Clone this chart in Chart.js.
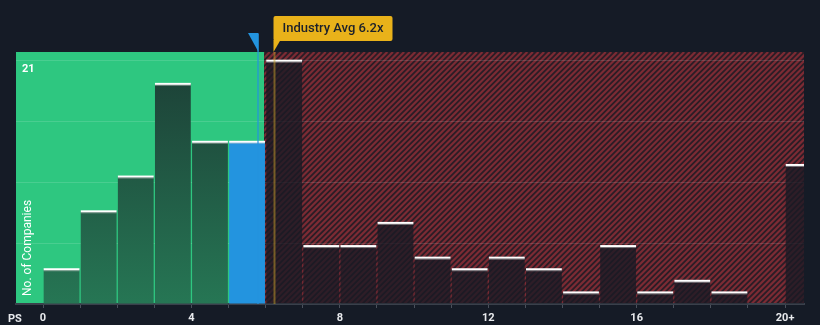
<!DOCTYPE html>
<html>
<head>
<meta charset="utf-8">
<script src="https://cdn.jsdelivr.net/npm/chart.js@4.4.1/dist/chart.umd.min.js"></script>
<style>
  html, body { margin: 0; padding: 0; background: #151b26; }
  #wrap { width: 820px; height: 325px; position: relative; }
</style>
</head>
<body>
<div id="wrap"><canvas id="psChart"></canvas></div>
<script>
// histogram bins (PS ratio), last one is open ended
const binStarts = [0,1,2,3,4,5,6,7,8,9,10,11,12,13,14,15,16,17,18,19,20];
const companyCounts = [3,8,11,19,14,14,21,5,5,7,4,3,4,3,1,5,1,2,1,0,12];
const xTickLabels = { 0: '0', 4: '4', 8: '8', 12: '12', 16: '16', 20: '20+' };
const yGridValues = [0, 5.25, 10.5, 15.75, 21];
const yMaxLabel = 21;
const companyPS = 5.8;
const industryAvg = 6.2;
const companyBin = 5;
const fairEdge = 6;

const FONT = 'Roboto, "Noto Sans", sans-serif';

function barColor(ctx) {
  const i = ctx.dataIndex;
  const chart = ctx.chart;
  if (i === companyBin) return '#2394df';
  if (i < companyBin) {
    const area = chart.chartArea;
    if (!area) return '#22604a';
    const g = chart.ctx.createLinearGradient(0, area.top, 0, area.bottom);
    g.addColorStop(0, '#1c3d35');
    g.addColorStop(1, '#267654');
    return g;
  }
  return 'rgba(24,26,36,0.78)';
}

const regionsPlugin = {
  id: 'regions',
  beforeDraw(chart) {
    const { ctx, chartArea: a, scales: { x } } = chart;
    const edge = x.getPixelForValue(fairEdge) - 1.5;
    ctx.save();
    ctx.fillStyle = '#2ec780';
    ctx.fillRect(a.left, a.top, edge - a.left, a.bottom - a.top);
    // hatched red area
    ctx.beginPath();
    ctx.rect(edge, a.top, a.right - edge, a.bottom - a.top);
    ctx.clip();
    ctx.fillStyle = '#2a1d26';
    ctx.fillRect(edge, a.top, a.right - edge, a.bottom - a.top);
    ctx.strokeStyle = '#7c2b34';
    ctx.lineWidth = 2.2;
    const h = a.bottom - a.top;
    for (let sx = edge - h; sx < a.right + 10; sx += 5.6) {
      ctx.beginPath();
      ctx.moveTo(sx, a.bottom);
      ctx.lineTo(sx + h, a.top);
      ctx.stroke();
    }
    ctx.restore();
  },
  afterDatasetsDraw(chart) {
    const { ctx, chartArea: a, scales: { x } } = chart;
    const meta = chart.getDatasetMeta(0);
    ctx.save();
    // white caps on bars
    meta.data.forEach((bar, i) => {
      if (!companyCounts[i]) return;
      const w = bar.width;
      const left = Math.max(bar.x - w / 2, a.left);
      const right = Math.min(bar.x + w / 2, a.right);
      ctx.fillStyle = '#ffffff';
      ctx.fillRect(left, bar.y - 1, right - left, 2);
      ctx.fillStyle = 'rgba(200,200,200,0.5)';
      ctx.fillRect(left, bar.y + 1, right - left, 1);
    });

    // company marker
    const cx = Math.round(x.getPixelForValue(companyPS));
    ctx.strokeStyle = 'rgba(35,148,223,0.8)';
    ctx.lineWidth = 1.5;
    ctx.beginPath();
    ctx.moveTo(cx, a.top - 18);
    ctx.lineTo(cx, a.bottom);
    ctx.stroke();
    ctx.fillStyle = '#2394df';
    ctx.beginPath();
    ctx.moveTo(cx - 10, a.top - 19);
    ctx.lineTo(cx + 0.5, a.top - 19);
    ctx.lineTo(cx + 0.5, a.top);
    ctx.closePath();
    ctx.fill();

    // industry average line + label
    const ix = Math.round(x.getPixelForValue(industryAvg)) + 1.5;
    ctx.strokeStyle = 'rgba(200,160,40,0.5)';
    ctx.lineWidth = 2;
    ctx.beginPath();
    ctx.moveTo(ix, a.top);
    ctx.lineTo(ix, a.bottom);
    ctx.stroke();

    const text = 'Industry Avg ' + industryAvg.toFixed(1) + 'x';
    ctx.font = '500 13px ' + FONT;
    const tw = ctx.measureText(text).width;
    const bx = ix - 1, by = 16, bw = tw + 18, bh = 25;
    ctx.fillStyle = '#e9b21a';
    ctx.beginPath();
    ctx.roundRect(bx, by, bw, bh, 2);
    ctx.fill();
    ctx.beginPath();
    ctx.moveTo(bx, by + bh - 1);
    ctx.lineTo(bx + 7, by + bh - 1);
    ctx.lineTo(bx, a.top);
    ctx.closePath();
    ctx.fill();
    ctx.fillStyle = '#1b202b';
    ctx.textBaseline = 'middle';
    ctx.textAlign = 'left';
    ctx.fillText(text, bx + 9, by + bh / 2 + 0.5);

    // axis captions
    ctx.fillStyle = '#ffffff';
    ctx.font = '12px ' + FONT;
    ctx.translate(a.left + 12, a.bottom - 8);
    ctx.rotate(-Math.PI / 2);
    ctx.textAlign = 'left';
    ctx.fillText('No. of Companies', 0, 0);
    ctx.restore();

    ctx.save();
    ctx.fillStyle = '#e8eaed';
    ctx.font = 'bold 11px ' + FONT;
    ctx.textAlign = 'left';
    ctx.textBaseline = 'middle';
    ctx.fillText('PS', 8, a.bottom + 15);
    ctx.restore();
  }
};

new Chart(document.getElementById('psChart'), {
  type: 'bar',
  data: {
    datasets: [{
      data: binStarts.map((b, i) => ({ x: b + 0.5, y: companyCounts[i] })),
      backgroundColor: barColor,
      borderWidth: 0,
      barPercentage: 0.965,
      categoryPercentage: 1
    }]
  },
  options: {
    responsive: true,
    maintainAspectRatio: false,
    animation: false,
    layout: { padding: { left: 16, right: 16, top: 52, bottom: 0 } },
    plugins: { legend: { display: false }, tooltip: { enabled: false } },
    scales: {
      x: {
        type: 'linear',
        offset: false,
        min: -0.728,
        max: 20.51,
        afterBuildTicks: (s) => { s.ticks = binStarts.map(v => ({ value: v })); },
        afterFit: (s) => { s.height = 21; },
        ticks: {
          autoSkip: false,
          maxRotation: 0,
          color: '#e8eaed',
          font: { family: FONT, size: 11, weight: 'bold' },
          padding: 4,
          callback: (v) => xTickLabels[v] || ''
        },
        grid: { offset: false, drawOnChartArea: false, drawTicks: true, tickLength: 4, color: '#4a505b' },
        border: { color: '#3a404b', width: 2 }
      },
      y: {
        min: 0,
        max: 21.75,
        afterBuildTicks: (s) => { s.ticks = yGridValues.map(v => ({ value: v })); },
        afterFit: (s) => { s.width = 0; },
        ticks: {
          mirror: true,
          padding: 6,
          labelOffset: 9,
          color: '#ffffff',
          font: { family: FONT, size: 11, weight: 'bold' },
          callback: (v) => (v === yMaxLabel ? String(yMaxLabel) : '')
        },
        grid: {
          color: (c) => (c.tick && c.tick.value > 0 ? 'rgba(255,255,255,0.13)' : 'rgba(0,0,0,0)'),
          drawTicks: false
        },
        border: { display: false }
      }
    }
  },
  plugins: [regionsPlugin]
});
</script>
</body>
</html>
